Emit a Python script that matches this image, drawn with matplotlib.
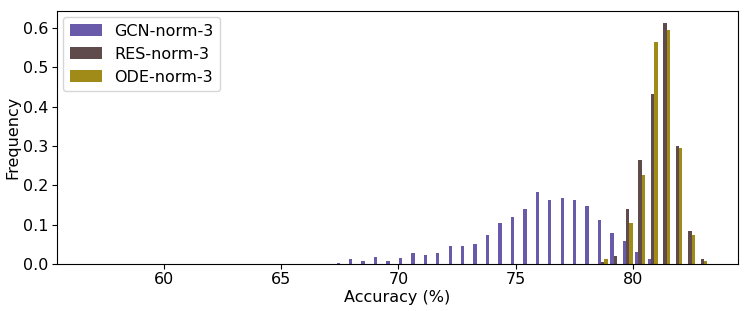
import numpy as np
import matplotlib
matplotlib.use("Agg")
import matplotlib.pyplot as plt

# histogram bins (accuracy %)
bin_lo = 56.7
bin_hi = 83.23
n_bins = 50

labels = ["GCN-norm-3", "RES-norm-3", "ODE-norm-3"]
colors = ["#6a5aaa", "#5f4b4b", "#a08a18"]

# frequency per bin (bins 0..49)
gcn = [0.0005, 0, 0, 0, 0, 0, 0, 0, 0, 0,
       0, 0, 0.001, 0, 0, 0, 0.001, 0, 0.001, 0.001,
       0.002, 0.014, 0.008, 0.018, 0.008, 0.015, 0.028, 0.024, 0.028, 0.046,
       0.046, 0.052, 0.074, 0.104, 0.120, 0.141, 0.182, 0.164, 0.168, 0.162,
       0.148, 0.112, 0.079, 0.059, 0.031, 0.013, 0.001, 0, 0, 0]
res = [0] * 41 + [0.004, 0.021, 0.141, 0.265, 0.432, 0.613, 0.300, 0.083, 0.013]
ode = [0] * 41 + [0.013, 0.0, 0.105, 0.226, 0.564, 0.595, 0.294, 0.074, 0.007]

edges = np.linspace(bin_lo, bin_hi, n_bins + 1)
centers = (edges[:-1] + edges[1:]) / 2

fig = plt.figure(figsize=(7.48, 3.11), dpi=100)
ax = fig.add_axes([0.076, 0.151, 0.911, 0.814])

ax.hist([centers, centers, centers], bins=edges, weights=[gcn, res, ode],
        color=colors, label=labels)

ax.set_xticks([60, 65, 70, 75, 80])
ax.set_yticks([0.0, 0.1, 0.2, 0.3, 0.4, 0.5, 0.6])
ax.tick_params(labelsize=11.5, pad=2.5)
ax.set_xlabel("Accuracy (%)", fontsize=11.5, labelpad=2)
ax.set_ylabel("Frequency", fontsize=11.5, labelpad=2)
ax.legend(loc="upper left", fontsize=11.5, borderaxespad=0.4)

fig.savefig("out.png", dpi=100)
